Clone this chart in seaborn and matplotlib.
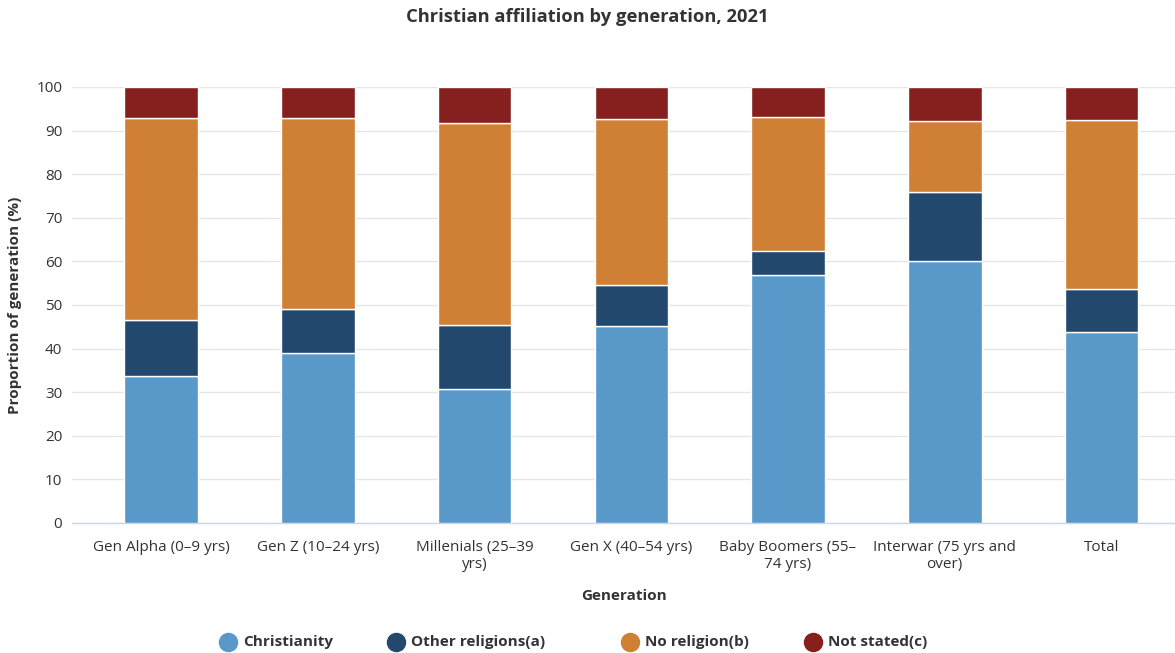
import numpy as np
import pandas as pd
import matplotlib
matplotlib.use("Agg")
import matplotlib.pyplot as plt
from matplotlib.lines import Line2D
import seaborn as sns

categories = ["Gen Alpha (0–9 yrs)", "Gen Z (10–24 yrs)", "Millenials (25–39\nyrs)",
              "Gen X (40–54 yrs)", "Baby Boomers (55–\n74 yrs)", "Interwar (75 yrs and\nover)", "Total"]
christianity = [33.7, 39.1, 30.8, 45.1, 56.8, 60.2, 43.8]
other_religions = [12.9, 9.9, 14.5, 9.6, 5.7, 15.8, 9.9]
no_religion = [46.3, 43.9, 46.5, 37.9, 30.6, 16.3, 38.8]
not_stated = [7.1, 7.1, 8.2, 7.4, 6.9, 7.7, 7.5]

series_names = ["Christianity", "Other religions(a)", "No religion(b)", "Not stated(c)"]
series_values = [christianity, other_religions, no_religion, not_stated]
colors = ["#5899c9", "#23486e", "#d08035", "#86201e"]
yticks = [0, 10, 20, 30, 40, 50, 60, 70, 80, 90, 100]

sns.set_theme(style="white")
plt.rcParams['font.family'] = ['Open Sans', 'DejaVu Sans']

fig = plt.figure(figsize=(11.75, 6.53), dpi=100)
ax = fig.add_axes([72/1175, 130/653, 1103/1175, 436/653])

bottom = np.zeros(len(categories))
for name, vals, col in zip(series_names, series_values, colors):
    df = pd.DataFrame({"cat": categories, "val": vals})
    sns.barplot(data=df, x="cat", y="val", color=col, bottom=bottom, width=0.47,
                saturation=1, edgecolor="white", linewidth=1.0, ax=ax, zorder=3)
    bottom = bottom + np.array(vals)

ax.set_xlim(-0.57, 6.47)
ax.set_ylim(0, 100)
ax.set_yticks(yticks)
ax.yaxis.grid(True, color="#e6e6e6", linewidth=1, zorder=0)
for s in ["top", "right", "left"]:
    ax.spines[s].set_visible(False)
ax.spines["bottom"].set_color("#ccd6eb")
ax.spines["bottom"].set_linewidth(1)
ax.tick_params(axis="both", length=0, labelsize=11, colors="#333333")
ax.tick_params(axis="x", pad=12)
ax.tick_params(axis="y", pad=7)

ax.set_xlabel("Generation", fontsize=11, fontweight="bold", color="#333333", labelpad=12)
ax.set_ylabel("Proportion of generation (%)", fontsize=11, fontweight="bold", color="#333333", labelpad=10)

fig.text(0.5, 1 - 17/653, "Christian affiliation by generation, 2021", ha="center", va="center",
         fontsize=13.2, fontweight="bold", color="#333333")

# legend placed manually to mimic the reference's spacing
leg_x = [228, 396, 630, 813]
leg_y = 1 - 642/653
for xp, name, col in zip(leg_x, series_names, colors):
    fig.add_artist(Line2D([xp/1175], [leg_y], marker="o", linestyle="", markersize=13,
                          markerfacecolor=col, markeredgecolor=col, transform=fig.transFigure))
    fig.text((xp + 15)/1175, leg_y, name, ha="left", va="center", fontsize=11,
             fontweight="bold", color="#333333")

fig.savefig("out.png", dpi=100)
